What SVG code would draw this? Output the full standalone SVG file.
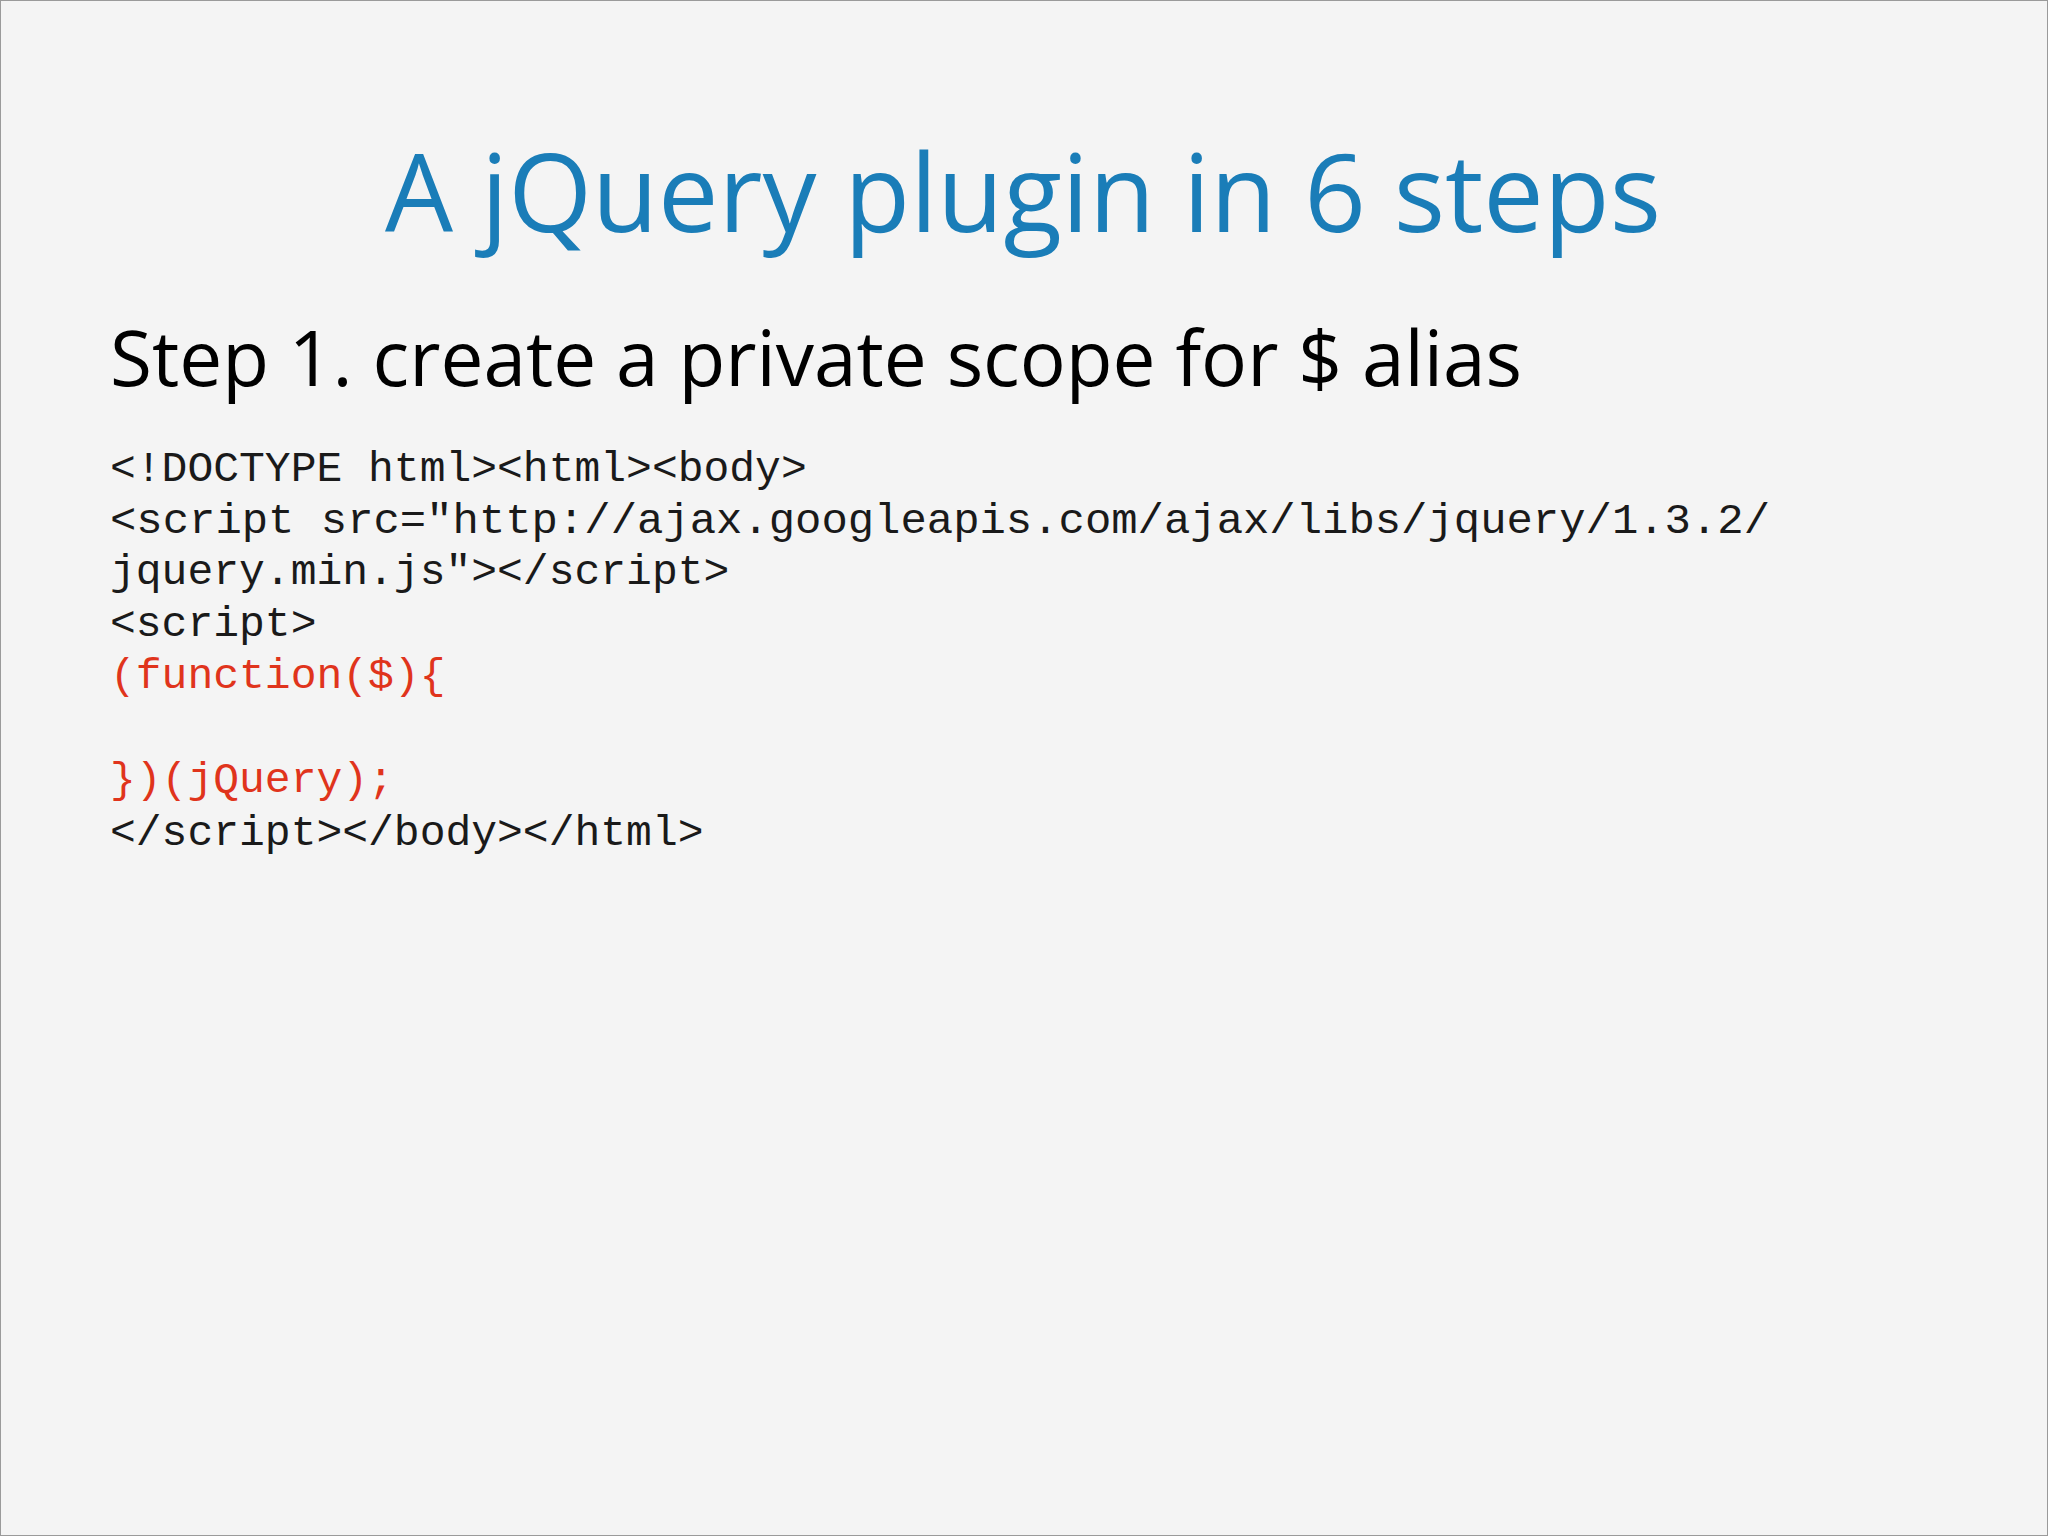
<svg xmlns="http://www.w3.org/2000/svg" width="2048" height="1536" viewBox="0 0 2048 1536">
<style>
.code{font-family:"Liberation Mono","Courier New",monospace;font-size:43px;fill:#1a1a1a}
.red{fill:#e0341c}
</style>
<rect x="0" y="0" width="2048" height="1536" fill="#f4f4f4" stroke="#9a9a9a" stroke-width="2"/>
<g id="title"><text x="1023" y="232" text-anchor="middle" font-family="'Open Sans','Noto Sans',sans-serif" font-size="108" fill="#1a7db8" textLength="1276" lengthAdjust="spacingAndGlyphs">A jQuery plugin in 6 steps</text></g>
<g id="subtitle"><text x="110" y="386" font-family="'Open Sans','Noto Sans',sans-serif" font-size="76" fill="#000" textLength="1412" lengthAdjust="spacingAndGlyphs">Step 1. create a private scope for $ alias</text></g>
<g id="code">
<text class="code" x="110" y="481">&lt;!DOCTYPE html&gt;&lt;html&gt;&lt;body&gt;</text>
<text class="code" x="110" y="533" textLength="1660" lengthAdjust="spacingAndGlyphs">&lt;script src="http://ajax.googleapis.com/ajax/libs/jquery/1.3.2/</text>
<text class="code" x="110" y="584">jquery.min.js"&gt;&lt;/script&gt;</text>
<text class="code" x="110" y="636">&lt;script&gt;</text>
<text class="code red" x="110" y="688">(function($){</text>
<text class="code red" x="110" y="792">})(jQuery);</text>
<text class="code" x="110" y="845">&lt;/script&gt;&lt;/body&gt;&lt;/html&gt;</text>
</g>
</svg>
